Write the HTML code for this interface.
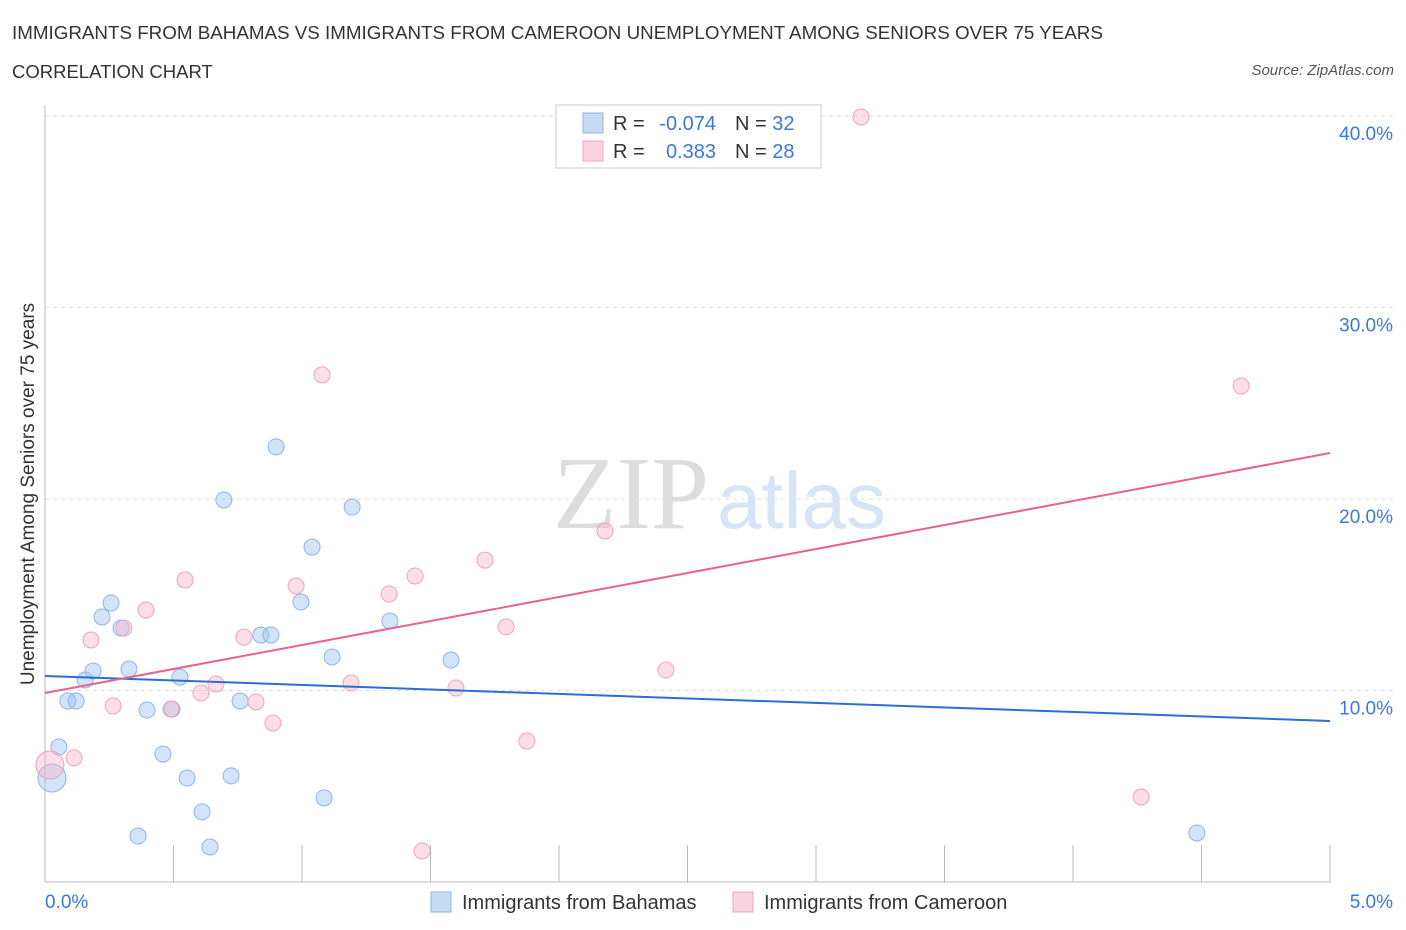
<!DOCTYPE html>
<html><head><meta charset="utf-8">
<style>
body{margin:0;background:#fff;font-family:"Liberation Sans",sans-serif;}
#wrap{position:relative;width:1406px;height:930px;overflow:hidden;}
.t{position:absolute;white-space:nowrap;}
</style></head><body>
<div id="wrap">
<div class="t" style="left:12px;top:22px;font-size:18.8px;color:#333;">IMMIGRANTS FROM BAHAMAS VS IMMIGRANTS FROM CAMEROON UNEMPLOYMENT AMONG SENIORS OVER 75 YEARS</div>
<div class="t" style="left:12px;top:61px;font-size:18.5px;color:#333;">CORRELATION CHART</div>
<div class="t" style="right:12px;top:62px;font-size:15px;color:#555;font-style:italic;">Source: ZipAtlas.com</div>
<svg id="chart" width="1406" height="930" style="position:absolute;left:0;top:0"></svg>
</div>
<script>
const blueX=[0.027,0.054,0.089,0.121,0.156,0.187,0.222,0.257,0.296,0.327,0.362,0.397,0.459,0.494,0.525,0.553,0.611,0.642,0.696,0.724,0.759,0.840,0.879,0.899,0.996,1.039,1.086,1.117,1.195,1.342,1.580,4.482];
const blueY=[5.43,7.05,9.45,9.45,10.55,11.02,13.84,14.57,13.26,11.12,2.40,8.98,6.68,9.03,10.70,5.43,3.66,1.83,19.95,5.54,9.45,12.90,12.90,22.72,14.62,17.49,4.39,11.75,19.58,13.63,11.59,2.56];
const pinkX=[0.019,0.113,0.179,0.265,0.307,0.393,0.490,0.545,0.607,0.665,0.774,0.821,0.887,0.977,1.078,1.191,1.339,1.440,1.467,1.599,1.712,1.794,1.875,2.179,2.416,3.175,4.265,4.654];
const pinkY=[6.11,6.48,12.64,9.19,13.26,14.20,9.03,15.77,9.87,10.34,12.79,9.40,8.30,15.46,26.48,10.39,15.04,15.98,1.62,10.13,16.81,13.32,7.36,18.33,11.07,39.95,4.44,25.90];
const blueTrend=[10.76,8.41];
const pinkTrend=[9.87,22.40];
const yTicks=[10,20,30,40];
const yTickLabels=["10.0%","20.0%","30.0%","40.0%"];
const xTicks=[0,0.5,1,1.5,2,2.5,3,3.5,4,4.5,5];

const NS="http://www.w3.org/2000/svg";
const svg=document.getElementById('chart');
const X=v=>45+v*257;
const Y=v=>882-v*19.15;
function mk(tag,attrs,parent){const e=document.createElementNS(NS,tag);for(const k in attrs)e.setAttribute(k,attrs[k]);(parent||svg).appendChild(e);return e;}

yTicks.forEach((v,i)=>{
 const g=mk('line',{x1:45,x2:1395,y1:Y(v),y2:Y(v),stroke:'#ddd','stroke-dasharray':'4,4'});
 
 
 const t=mk('text',{x:1393,y:Y(v)+24,'text-anchor':'end','font-size':19,fill:'#3b78d8','font-family':'Liberation Sans'});
 t.textContent=yTickLabels[i];
 
 
});
const wm=mk('text',{x:553,y:528,'font-size':104,fill:'#ddd','font-family':'Liberation Serif'});wm.textContent='ZIP';


const wm2=mk('text',{x:717,y:528,'font-size':80,fill:'#d6e4f5','font-family':'Liberation Sans'});wm2.textContent='atlas';



const ax=mk('line',{x1:45,x2:45,y1:105,y2:882,stroke:'#bbb'});


const bx=mk('line',{x1:45,x2:1330,y1:882,y2:882,stroke:'#bbb'});


xTicks.forEach(v=>{
 const l=mk('line',{x1:X(v),x2:X(v),y1:845,y2:882,stroke:'#bbb'});
 
 
});
const xl0=mk('text',{x:45,y:908,'font-size':19,fill:'#3b78d8','font-family':'Liberation Sans'});xl0.textContent='0.0%';


const xl1=mk('text',{x:1393,y:908,'font-size':19,fill:'#3b78d8','text-anchor':'end','font-family':'Liberation Sans'});xl1.textContent='5.0%';


const yt=mk('text',{x:0,y:0,'font-size':19,fill:'#333','text-anchor':'middle','font-family':'Liberation Sans',transform:'translate(34,494) rotate(-90)'});yt.textContent='Unemployment Among Seniors over 75 years';



function pts(xs,ys,fill,stroke,name,bigIdx){
 xs.forEach((v,i)=>{
  const c=mk('circle',{cx:X(v),cy:Y(ys[i]),r:i===bigIdx?14:8,fill:fill,stroke:stroke,'stroke-width':1});
  
  
 });
}
pts(blueX,blueY,'rgba(160,196,240,0.45)','#8db5e6','point-bahamas',0);
pts(pinkX,pinkY,'rgba(246,182,204,0.45)','#eea3bd','point-cameroon',0);
const bl=mk('line',{x1:X(0),x2:X(5),y1:Y(blueTrend[0]),y2:Y(blueTrend[1]),stroke:'#2a6fd6','stroke-width':2});


const pl=mk('line',{x1:X(0),x2:X(5),y1:Y(pinkTrend[0]),y2:Y(pinkTrend[1]),stroke:'#e8608f','stroke-width':2});



const lb=mk('rect',{x:556,y:105,width:265,height:63,fill:'#fff',stroke:'#ccc'});


[['rgba(160,196,240,0.6)','#8db5e6','-0.074','32',123],['rgba(246,182,204,0.6)','#eea3bd','0.383','28',151]].forEach(r=>{
 const s=mk('rect',{x:583,y:r[4]-10,width:20,height:20,fill:r[0],stroke:r[1]});
 
 
 const t=mk('text',{x:613,y:r[4]+7,'font-size':20,fill:'#333','font-family':'Liberation Sans'});
 t.innerHTML='R = <tspan x="716" text-anchor="end" fill="#3b78d8">'+r[2]+'</tspan><tspan x="735">N = </tspan><tspan fill="#3b78d8">'+r[3]+'</tspan>';
 
 
});
[[431,'rgba(160,196,240,0.6)','#8db5e6','Immigrants from Bahamas'],[733,'rgba(246,182,204,0.6)','#eea3bd','Immigrants from Cameroon']].forEach(r=>{
 const s=mk('rect',{x:r[0],y:892,width:20,height:20,fill:r[1],stroke:r[2]});
 
 
 const t=mk('text',{x:r[0]+31,y:909,'font-size':20,fill:'#333','font-family':'Liberation Sans'});t.textContent=r[3];
 
 
});
</script>
</body></html>
